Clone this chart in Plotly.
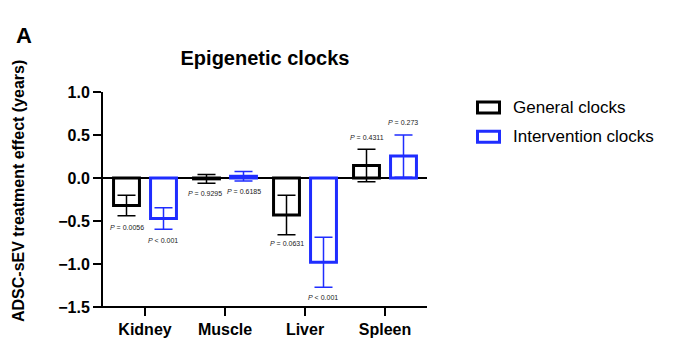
import plotly.graph_objects as go

categories = ["Kidney", "Muscle", "Liver", "Spleen"]
general_mean = [-0.32, -0.01, -0.43, 0.145]
general_err = [0.12, 0.05, 0.23, 0.19]
intervention_mean = [-0.47, 0.02, -0.98, 0.255]
intervention_err = [0.125, 0.055, 0.29, 0.245]
general_p = ["= 0.0056", "= 0.9295", "= 0.0631", "= 0.4311"]
intervention_p = ["< 0.001", "= 0.6185", "< 0.001", "= 0.273"]
general_p_y = [-0.578, -0.178, -0.767, 0.469]
intervention_p_y = [-0.73, -0.16, -1.39, 0.643]
y_tick_values = [1.0, 0.5, 0.0, -0.5, -1.0, -1.5]
y_tick_labels = ["1.0", "0.5", "0.0", "\u22120.5", "\u22121.0", "\u22121.5"]

BLACK = "#000000"
BLUE = "#1f2dff"
FONT = "Liberation Sans, Arial, sans-serif"

# page body has an 8px margin; figure is sized to fit the 678x364 window
PAGE = 8
W, H = 678 - 2 * PAGE, 364 - 2 * PAGE
# plot area in window pixels
L, R, T, B = 103, 427, 92, 307

def px(x):
    return (x - L) / (R - L)

def py(y):
    return (B - y) / (B - T)

fig = go.Figure()
fig.add_trace(go.Bar(
    x=categories, y=general_mean, name="General clocks",
    marker=dict(color="rgba(255,255,255,0)", line=dict(color=BLACK, width=3)),
    error_y=dict(type="data", array=general_err, color=BLACK, thickness=1.5, width=9),
    showlegend=False,
))
fig.add_trace(go.Bar(
    x=categories, y=intervention_mean, name="Intervention clocks",
    marker=dict(color="rgba(255,255,255,0)", line=dict(color=BLUE, width=3)),
    error_y=dict(type="data", array=intervention_err, color=BLUE, thickness=1.5, width=9),
    showlegend=False,
))

annotations = []
off = 0.231
for i in range(len(categories)):
    near_zero = abs(general_mean[i]) < 0.05 and abs(intervention_mean[i]) < 0.05
    if near_zero:
        g = dict(x=i - 0.01, xanchor="right")
        v = dict(x=i - 0.005, xanchor="left")
    else:
        g = dict(x=i - off, xanchor="center")
        v = dict(x=i + off, xanchor="center")
    annotations.append(dict(y=general_p_y[i], xref="x", yref="y", yanchor="middle",
                            text="<i>P</i> " + general_p[i], showarrow=False,
                            font=dict(size=7, color="#222", family=FONT), **g))
    annotations.append(dict(y=intervention_p_y[i], xref="x", yref="y", yanchor="middle",
                            text="<i>P</i> " + intervention_p[i], showarrow=False,
                            font=dict(size=7, color="#222", family=FONT), **v))

annotations.append(dict(x=px(24), y=py(36), xref="paper", yref="paper", text="<b>A</b>",
                        xanchor="center", yanchor="middle",
                        showarrow=False, font=dict(size=22, color=BLACK, family=FONT)))
annotations.append(dict(x=px(18), y=py(191), xref="paper", yref="paper",
                        xanchor="center", yanchor="middle",
                        text="<b>ADSC-sEV treatment effect (years)</b>", textangle=-90,
                        showarrow=False, font=dict(size=16, color=BLACK, family=FONT)))

shapes = [
    dict(type="line", xref="paper", yref="paper", x0=px(95), x1=1, y0=0, y1=0,
         line=dict(color=BLACK, width=2)),
]
legend_items = [("General clocks", BLACK, 107.5), ("Intervention clocks", BLUE, 136.7)]
for label, col, yc in legend_items:
    shapes.append(dict(type="rect", xref="paper", yref="paper",
                       x0=px(477.5), x1=px(499.5), y0=py(yc - 5.5), y1=py(yc + 5.5),
                       line=dict(color=col, width=3), fillcolor="white"))
    annotations.append(dict(x=px(511), y=py(yc), xref="paper", yref="paper", text=label,
                            xanchor="left", yanchor="middle", showarrow=False,
                            font=dict(size=17, color=BLACK, family=FONT)))

fig.update_layout(
    width=W, height=H,
    margin=dict(l=L - PAGE, r=W - (R - PAGE), t=T - PAGE, b=H - (B - PAGE), pad=0),
    paper_bgcolor="white", plot_bgcolor="white",
    barmode="group", bargap=0.075, bargroupgap=0.3,
    title=dict(text="<b>Epigenetic clocks</b>", x=(265 - PAGE) / W, xref="container",
               xanchor="center", y=1 - (58 - PAGE) / H, yref="container", yanchor="middle",
               font=dict(size=20, color=BLACK, family=FONT)),
    font=dict(family=FONT, color=BLACK),
    annotations=annotations,
    shapes=shapes,
)
fig.update_xaxes(range=[-0.525, 3.525], showline=False, ticks="outside", ticklen=8,
                 tickwidth=2, tickcolor=BLACK, showgrid=False, zeroline=False,
                 tickfont=dict(size=16, family=FONT, color=BLACK),
                 ticktext=["<b>" + c + "</b>" for c in categories],
                 tickvals=categories)
fig.update_yaxes(range=[-1.5, 1.0], tickvals=y_tick_values,
                 ticktext=["<b>" + t + "</b>" for t in y_tick_labels], showline=True,
                 linecolor=BLACK, linewidth=2, ticks="outside", ticklen=8, tickwidth=2,
                 tickcolor=BLACK, showgrid=False, zeroline=True, zerolinecolor=BLACK,
                 zerolinewidth=2, tickfont=dict(size=16, family=FONT, color=BLACK))

fig.write_html("out.html")
